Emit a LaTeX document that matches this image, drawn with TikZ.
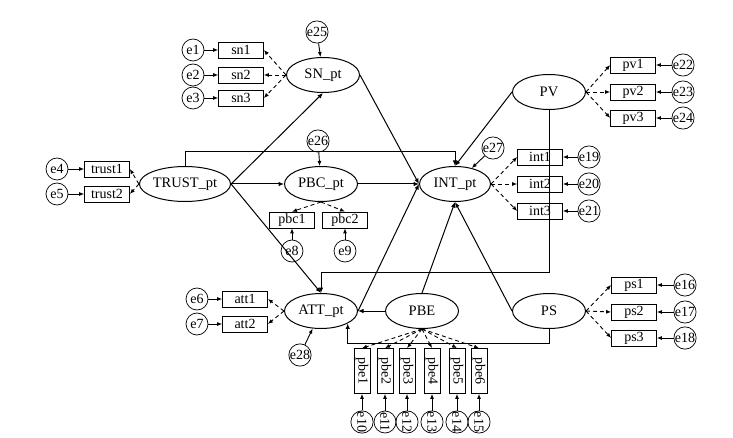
\documentclass[tikz,border=0pt]{standalone}
\usepackage{fontspec}
\setmainfont{Liberation Serif}
\usepackage{graphicx}
\usetikzlibrary{arrows.meta,shapes.geometric}

\tikzset{
  latent/.style={ellipse, draw, line width=1pt, minimum width=73pt,
    minimum height=35pt, inner sep=0pt, font=\fontsize{14.5}{16}\selectfont},
  obs/.style={rectangle, draw, line width=0.7pt, minimum width=45pt,
    minimum height=16pt, inner sep=0pt, font=\fontsize{14}{15}\selectfont},
  vobs/.style={obs, minimum width=16pt, minimum height=45pt},
  err/.style={circle, draw, line width=0.7pt, minimum size=22pt,
    inner sep=0pt, font=\fontsize{14}{15}\selectfont},
  regr/.style={-{Latex[length=5.5pt,width=4.5pt]}, line width=1pt},
  loading/.style={-{Latex[length=5pt,width=4pt]}, line width=0.9pt,
    dash pattern=on 4pt off 3pt},
  errarrow/.style={-{Latex[length=5pt,width=4pt]}, line width=0.9pt},
}

\begin{document}
\begin{tikzpicture}[x=1pt,y=-1pt]
  \useasboundingbox (0,0) rectangle (733,438);

  % latent variables
  \node[latent] (sn) at (323,75) {SN\_pt};
  \node[latent, minimum width=85pt] (trust) at (185,184) {TRUST\_pt};
  \node[latent] (pbc) at (321,184) {PBC\_pt};
  \node[latent, minimum width=71pt] (int) at (455,184) {INT\_pt};
  \node[latent] (pv) at (549,92) {PV};
  \node[latent] (att) at (321,311) {ATT\_pt};
  \node[latent] (pbe) at (422,311) {PBE};
  \node[latent] (ps) at (549,311) {PS};

  % indicators
  \node[obs] (sn1) at (241,50) {sn1};
  \node[obs] (sn2) at (241,75) {sn2};
  \node[obs] (sn3) at (241,98) {sn3};
  \node[obs] (trust1) at (107,169) {trust1};
  \node[obs] (trust2) at (107,194) {trust2};
  \node[obs] (att1) at (245,299) {att1};
  \node[obs] (att2) at (245,324) {att2};
  \node[obs] (pbc1) at (292,220) {pbc1};
  \node[obs] (pbc2) at (345,220) {pbc2};
  \node[obs] (int1) at (540,157) {int1};
  \node[obs] (int2) at (540,184) {int2};
  \node[obs] (int3) at (540,211) {int3};
  \node[obs] (pv1) at (633,65) {pv1};
  \node[obs] (pv2) at (633,92) {pv2};
  \node[obs] (pv3) at (633,118) {pv3};
  \node[obs] (ps1) at (634,285) {ps1};
  \node[obs] (ps2) at (634,312) {ps2};
  \node[obs] (ps3) at (634,338) {ps3};
  \node[vobs] (pbe1) at (362,371) {\rotatebox{-90}{pbe1}};
  \node[vobs] (pbe2) at (385,371) {\rotatebox{-90}{pbe2}};
  \node[vobs] (pbe3) at (407,371) {\rotatebox{-90}{pbe3}};
  \node[vobs] (pbe4) at (432,371) {\rotatebox{-90}{pbe4}};
  \node[vobs] (pbe5) at (457,371) {\rotatebox{-90}{pbe5}};
  \node[vobs] (pbe6) at (479,371) {\rotatebox{-90}{pbe6}};

  % error terms
  \node[err] (e1) at (193,50) {e1};
  \node[err] (e2) at (193,75) {e2};
  \node[err] (e3) at (193,98) {e3};
  \node[err] (e4) at (57,169) {e4};
  \node[err] (e5) at (57,194) {e5};
  \node[err] (e6) at (197,299) {e6};
  \node[err] (e7) at (197,324) {e7};
  \node[err] (e8) at (292,251) {e8};
  \node[err] (e9) at (345,251) {e9};
  \node[err] (e10) at (362,422) {\rotatebox{-90}{e10}};
  \node[err] (e11) at (385,422) {\rotatebox{-90}{e11}};
  \node[err] (e12) at (407,422) {\rotatebox{-90}{e12}};
  \node[err] (e13) at (432,422) {\rotatebox{-90}{e13}};
  \node[err] (e14) at (457,422) {\rotatebox{-90}{e14}};
  \node[err] (e15) at (479,422) {\rotatebox{-90}{e15}};
  \node[err] (e16) at (685,285) {e16};
  \node[err] (e17) at (685,312) {e17};
  \node[err] (e18) at (685,338) {e18};
  \node[err] (e19) at (589,157) {e19};
  \node[err] (e20) at (589,184) {e20};
  \node[err] (e21) at (589,211) {e21};
  \node[err] (e22) at (683,65) {e22};
  \node[err] (e23) at (683,92) {e23};
  \node[err] (e24) at (683,118) {e24};
  \node[err] (e25) at (317,32) {e25};
  \node[err] (e26) at (318,141) {e26};
  \node[err] (e27) at (493,148) {e27};
  \node[err] (e28) at (300,355) {e28};

  % structural paths
  \draw[regr] (trust.east) -- (sn.south);
  \draw[regr] (trust) -- (pbc);
  \draw[regr] (trust.east) -- (att.north);
  \draw[regr] (trust.north) -- ++(0,-14) -| (int.north);
  \draw[regr] (sn.east) -- (int.west);
  \draw[regr] (pbc) -- (int);
  \draw[regr] (pv.west) -- (int.north);
  \draw[regr] (att.east) -- (int.west);
  \draw[regr] (pbe.north) -- (int.south);
  \draw[regr] (ps.west) -- (int.south);
  \draw[regr] (pv.south) -- ++(0,162.5) -| (att.north);
  \draw[regr] (ps.south) -- ++(0,14.5) -| (att.335);
  \draw[regr] (pbe) -- (att);

  % loadings
  \draw[loading] (sn.west) -- (sn1.east);
  \draw[loading] (sn.west) -- (sn2.east);
  \draw[loading] (sn.west) -- (sn3.east);
  \draw[loading] (trust.west) -- (trust1.east);
  \draw[loading] (trust.west) -- (trust2.east);
  \draw[loading] (att.west) -- (att1.east);
  \draw[loading] (att.west) -- (att2.east);
  \draw[loading] (pbc.south) -- (pbc1.north);
  \draw[loading] (pbc.south) -- (pbc2.north);
  \draw[loading] (int.east) -- (int1.west);
  \draw[loading] (int.east) -- (int2.west);
  \draw[loading] (int.east) -- (int3.west);
  \draw[loading] (pv.east) -- (pv1.west);
  \draw[loading] (pv.east) -- (pv2.west);
  \draw[loading] (pv.east) -- (pv3.west);
  \draw[loading] (ps.east) -- (ps1.west);
  \draw[loading] (ps.east) -- (ps2.west);
  \draw[loading] (ps.east) -- (ps3.west);
  \draw[loading] (pbe.south) -- (pbe1.north);
  \draw[loading] (pbe.south) -- (pbe2.north);
  \draw[loading] (pbe.south) -- (pbe3.north);
  \draw[loading] (pbe.south) -- (pbe4.north);
  \draw[loading] (pbe.south) -- (pbe5.north);
  \draw[loading] (pbe.south) -- (pbe6.north);

  % error arrows
  \draw[errarrow] (e1) -- (sn1);
  \draw[errarrow] (e2) -- (sn2);
  \draw[errarrow] (e3) -- (sn3);
  \draw[errarrow] (e4) -- (trust1);
  \draw[errarrow] (e5) -- (trust2);
  \draw[errarrow] (e6) -- (att1);
  \draw[errarrow] (e7) -- (att2);
  \draw[errarrow] (e8) -- (pbc1);
  \draw[errarrow] (e9) -- (pbc2);
  \draw[errarrow] (e10) -- (pbe1);
  \draw[errarrow] (e11) -- (pbe2);
  \draw[errarrow] (e12) -- (pbe3);
  \draw[errarrow] (e13) -- (pbe4);
  \draw[errarrow] (e14) -- (pbe5);
  \draw[errarrow] (e15) -- (pbe6);
  \draw[errarrow] (e16) -- (ps1);
  \draw[errarrow] (e17) -- (ps2);
  \draw[errarrow] (e18) -- (ps3);
  \draw[errarrow] (e19) -- (int1);
  \draw[errarrow] (e20) -- (int2);
  \draw[errarrow] (e21) -- (int3);
  \draw[errarrow] (e22) -- (pv1);
  \draw[errarrow] (e23) -- (pv2);
  \draw[errarrow] (e24) -- (pv3);
  \draw[errarrow] (e25) -- (sn);
  \draw[errarrow] (e26) -- (pbc);
  \draw[errarrow] (e27) -- (int);
  \draw[errarrow] (e28) -- (att);
\end{tikzpicture}
\end{document}
